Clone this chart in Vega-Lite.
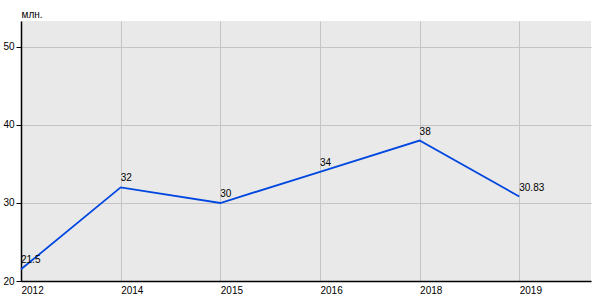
{
  "$schema": "https://vega.github.io/schema/vega-lite/v6.json",
  "width": 570,
  "height": 260,
  "padding": {"left": 21, "top": 21, "right": 9, "bottom": 19},
  "autosize": {"type": "none"},
  "background": "white",
  "config": {
    "view": {"fill": "#e9e9e9", "stroke": null},
    "font": "Liberation Sans",
    "axis": {"labelFont": "Liberation Sans", "labelFontSize": 10, "labelColor": "#000", "titleFont": "Liberation Sans"}
  },
  "data": {
    "values": [
      {"year": "2012", "value": 21.5},
      {"year": "2014", "value": 32},
      {"year": "2015", "value": 30},
      {"year": "2016", "value": 34},
      {"year": "2018", "value": 38},
      {"year": "2019", "value": 30.83}
    ]
  },
  "encoding": {
    "x": {
      "field": "year",
      "type": "ordinal",
      "scale": {"type": "point", "padding": 0.36, "align": 0},
      "axis": {
        "title": null,
        "labelAngle": 0,
        "labelAlign": "left",
        "labelPadding": 4,
        "ticks": false,
        "grid": true,
        "gridColor": "#c4c4c4",
        "gridWidth": 1,
        "domainColor": "#000",
        "domainWidth": 1.5
      }
    },
    "y": {
      "field": "value",
      "type": "quantitative",
      "scale": {"domain": [20, 53.33], "nice": false, "zero": false},
      "axis": {
        "title": "млн.",
        "titleAngle": 0,
        "titleAlign": "left",
        "titleBaseline": "alphabetic",
        "titleX": 0,
        "titleY": -4,
        "titleFontSize": 10,
        "titleFontWeight": "normal",
        "titleColor": "#000",
        "values": [20, 30, 40, 50],
        "tickColor": "#000",
        "tickSize": 5,
        "labelPadding": 2,
        "grid": true,
        "gridColor": "#c4c4c4",
        "domainColor": "#000",
        "domainWidth": 1.5
      }
    }
  },
  "layer": [
    {"mark": {"type": "line", "color": "#0047e0", "strokeWidth": 1.8}},
    {
      "mark": {"type": "text", "align": "left", "baseline": "alphabetic", "dy": -6, "fontSize": 10, "color": "#000"},
      "encoding": {"text": {"field": "value", "type": "quantitative"}}
    }
  ]
}
